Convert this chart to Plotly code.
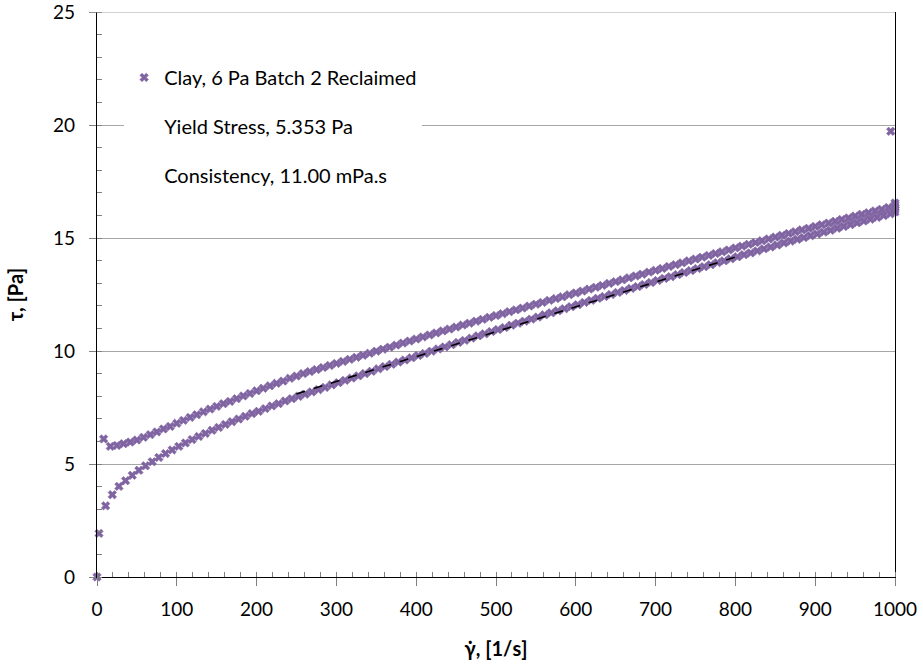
import plotly.graph_objects as go

# ---- data ----
up_x = [0.0, 2.5, 10.8, 19.2, 27.5, 35.8, 44.2, 52.5, 60.8, 69.2, 77.5, 85.8, 94.2, 102.5, 110.8, 119.2,
        127.5, 135.8, 144.2, 152.5, 160.8, 169.2, 177.5, 185.8, 194.2, 202.5, 210.8, 219.2, 227.5,
        235.8, 244.2, 252.5, 260.8, 269.2, 277.5, 285.8, 294.2, 302.5, 310.8, 319.2, 327.5, 335.8,
        344.2, 352.5, 360.8, 369.2, 377.5, 385.8, 394.2, 402.5, 410.8, 419.2, 427.5, 435.8, 444.2,
        452.5, 460.8, 469.2, 477.5, 485.8, 494.2, 502.5, 510.8, 519.2, 527.5, 535.8, 544.2, 552.5,
        560.8, 569.2, 577.5, 585.8, 594.2, 602.5, 610.8, 619.2, 627.5, 635.8, 644.2, 652.5, 660.8,
        669.2, 677.5, 685.8, 694.2, 702.5, 710.8, 719.2, 727.5, 735.8, 744.2, 752.5, 760.8, 769.2,
        777.5, 785.8, 794.2, 802.5, 810.8, 819.2, 827.5, 835.8, 844.2, 852.5, 860.8, 869.2, 877.5,
        885.8, 894.2, 902.5, 910.8, 919.2, 927.5, 935.8, 944.2, 952.5, 960.8, 969.2, 977.5, 985.8,
        994.2]
up_y = [0.0, 1.93, 3.15, 3.64, 4.01, 4.26, 4.50, 4.72, 4.92, 5.10, 5.29, 5.46, 5.62, 5.78, 5.93, 6.08,
        6.22, 6.35, 6.49, 6.62, 6.75, 6.87, 6.99, 7.11, 7.23, 7.33, 7.45, 7.57, 7.67,
        7.79, 7.89, 7.99, 8.09, 8.19, 8.29, 8.39, 8.50, 8.60, 8.70, 8.80, 8.90, 9.00,
        9.10, 9.21, 9.31, 9.41, 9.51, 9.60, 9.70, 9.80, 9.89, 9.99, 10.09, 10.18, 10.28,
        10.38, 10.47, 10.57, 10.67, 10.76, 10.86, 10.95, 11.04, 11.14, 11.23, 11.32, 11.41, 11.50,
        11.60, 11.69, 11.78, 11.87, 11.96, 12.05, 12.15, 12.24, 12.33, 12.41, 12.50, 12.59, 12.68,
        12.77, 12.85, 12.94, 13.03, 13.12, 13.21, 13.29, 13.38, 13.47, 13.56, 13.65, 13.73, 13.82,
        13.91, 13.99, 14.08, 14.17, 14.26, 14.34, 14.43, 14.52, 14.60, 14.69, 14.78, 14.86, 14.94,
        15.02, 15.10, 15.18, 15.26, 15.34, 15.43, 15.51, 15.59, 15.67, 15.75, 15.83, 15.91, 15.99,
        16.07]

hold_x = [1000, 1000, 1000, 1000, 1000, 994.7]
hold_y = [16.15, 16.25, 16.35, 16.45, 16.55, 19.72]

down_x = [991.7, 983.3, 975.0, 966.7, 958.3, 950.0, 941.7, 933.3, 925.0, 916.7, 908.3, 900.0, 891.7,
          883.3, 875.0, 866.7, 858.3, 850.0, 841.7, 833.3, 825.0, 816.7, 808.3, 800.0, 791.7, 783.3,
          775.0, 766.7, 758.3, 750.0, 741.7, 733.3, 725.0, 716.7, 708.3, 700.0, 691.7, 683.3, 675.0,
          666.7, 658.3, 650.0, 641.7, 633.3, 625.0, 616.7, 608.3, 600.0, 591.7, 583.3, 575.0, 566.7,
          558.3, 550.0, 541.7, 533.3, 525.0, 516.7, 508.3, 500.0, 491.7, 483.3, 475.0, 466.7, 458.3,
          450.0, 441.7, 433.3, 425.0, 416.7, 408.3, 400.0, 391.7, 383.3, 375.0, 366.7, 358.3, 350.0,
          341.7, 333.3, 325.0, 316.7, 308.3, 300.0, 291.7, 283.3, 275.0, 266.7, 258.3, 250.0, 241.7,
          233.3, 225.0, 216.7, 208.3, 200.0, 191.7, 183.3, 175.0, 166.7, 158.3, 150.0, 141.7, 133.3,
          125.0, 116.7, 108.3, 100.0, 91.7, 83.3, 75.0, 66.7, 58.3, 50.0, 41.7, 33.3, 25.0, 16.7, 8.3]
down_y = [16.35, 16.27, 16.20, 16.12, 16.05, 15.97, 15.89, 15.82, 15.74, 15.66, 15.59, 15.51, 15.43,
          15.36, 15.28, 15.20, 15.12, 15.04, 14.96, 14.88, 14.80, 14.72, 14.64, 14.56, 14.47, 14.39,
          14.31, 14.23, 14.15, 14.07, 13.99, 13.90, 13.82, 13.74, 13.65, 13.57, 13.49, 13.40, 13.32,
          13.24, 13.15, 13.07, 12.99, 12.90, 12.82, 12.74, 12.65, 12.57, 12.49, 12.40, 12.32, 12.24,
          12.15, 12.07, 11.99, 11.90, 11.82, 11.74, 11.65, 11.57, 11.49, 11.40, 11.32, 11.23, 11.15,
          11.06, 10.97, 10.89, 10.80, 10.71, 10.62, 10.53, 10.44, 10.35, 10.26, 10.17, 10.08, 9.99,
          9.90, 9.81, 9.72, 9.63, 9.54, 9.45, 9.36, 9.27, 9.18, 9.09, 9.00, 8.89, 8.79,
          8.67, 8.57, 8.46, 8.35, 8.24, 8.12, 8.01, 7.89, 7.77, 7.67, 7.55, 7.43, 7.31,
          7.18, 7.06, 6.93, 6.80, 6.66, 6.55, 6.42, 6.30, 6.18, 6.06, 5.97, 5.90, 5.82, 5.78, 6.11]

fit_x = [250, 805]
yield_stress = 5.353      # Pa
consistency = 0.011       # Pa.s
fit_y = [yield_stress + consistency * v for v in fit_x]

series_name = "Clay, 6 Pa Batch 2 Reclaimed"
yield_label = "Yield Stress, 5.353 Pa"
cons_label = "Consistency, 11.00 mPa.s"

x_ticks = [0, 100, 200, 300, 400, 500, 600, 700, 800, 900, 1000]
y_ticks = [0, 5, 10, 15, 20, 25]

PURPLE = "#8064A2"
FONT = "Lato"

fig = go.Figure()
fig.add_trace(go.Scatter(
    x=up_x + hold_x + down_x, y=up_y + hold_y + down_y, mode="markers", name=series_name,
    marker=dict(symbol="x", size=7.5, color=PURPLE, line=dict(color=PURPLE, width=0.6)),
    legendgroup="a", showlegend=True, cliponaxis=False))
fig.add_trace(go.Scatter(
    x=fit_x, y=fit_y, mode="lines", line=dict(color="black", width=1.6, dash="dash"),
    showlegend=False, hoverinfo="skip"))
fig.add_trace(go.Scatter(x=[None], y=[None], mode="markers", name=yield_label,
                         marker=dict(color="rgba(0,0,0,0)"), legendgroup="b"))
fig.add_trace(go.Scatter(x=[None], y=[None], mode="markers", name=cons_label,
                         marker=dict(color="rgba(0,0,0,0)"), legendgroup="c"))

# top boundary line of the plot area (grey, like the gridlines, with its outside tick)
fig.add_shape(type="line", xref="paper", yref="y", x0=-0.009, x1=1, y0=y_ticks[-1], y1=y_ticks[-1],
              line=dict(color="#A6A6A6", width=1), layer="above")

fig.update_layout(
    width=923, height=665,
    margin=dict(l=97, r=28, t=12, b=88, autoexpand=False),
    paper_bgcolor="white", plot_bgcolor="white",
    font=dict(family=FONT, color="#000000", size=18),
    legend=dict(x=0.034, y=0.9186, xanchor="left", yanchor="top",
                bgcolor="white", borderwidth=0, tracegroupgap=20,
                font=dict(family=FONT, size=20, color="#000000")),
    xaxis=dict(range=[x_ticks[0], x_ticks[-1]], tickmode="linear", tick0=x_ticks[0],
               dtick=x_ticks[1] - x_ticks[0],
               automargin=False, ticklabeloverflow="allow",
               showgrid=False, zeroline=False, showline=True, linecolor="#000000", linewidth=1.3,
               ticks="outside", ticklen=8, tickcolor="#808080", tickwidth=1,
               minor=dict(dtick=20, ticks="inside", ticklen=5, tickcolor="#808080", showgrid=False),
               tickfont=dict(size=19), ticklabelstandoff=7,
               title=dict(text="<b>γ̇, [1/s]</b>", font=dict(size=20), standoff=23)),
    yaxis=dict(range=[y_ticks[0], y_ticks[-1]], tickmode="linear", tick0=y_ticks[0],
               dtick=y_ticks[1] - y_ticks[0],
               automargin=False, ticklabeloverflow="allow",
               showgrid=True, gridcolor="#A6A6A6", gridwidth=1,
               zeroline=False, showline=True, linecolor="#000000", linewidth=1.3, mirror=True,
               ticks="outside", ticklen=7, tickcolor="#808080", tickwidth=1,
               minor=dict(dtick=1, ticks="inside", ticklen=5, tickcolor="#808080", showgrid=False),
               tickfont=dict(size=19), ticklabelstandoff=10,
               title=dict(text="<b>τ, [Pa]</b>", font=dict(size=20), standoff=24)),
)

# remove the browser's default 8px page margin so the figure sits at the window's corner
fig.write_html("out.html",
               config={"displayModeBar": False},
               post_script="document.body.style.margin='0';document.body.style.overflow='hidden';")
